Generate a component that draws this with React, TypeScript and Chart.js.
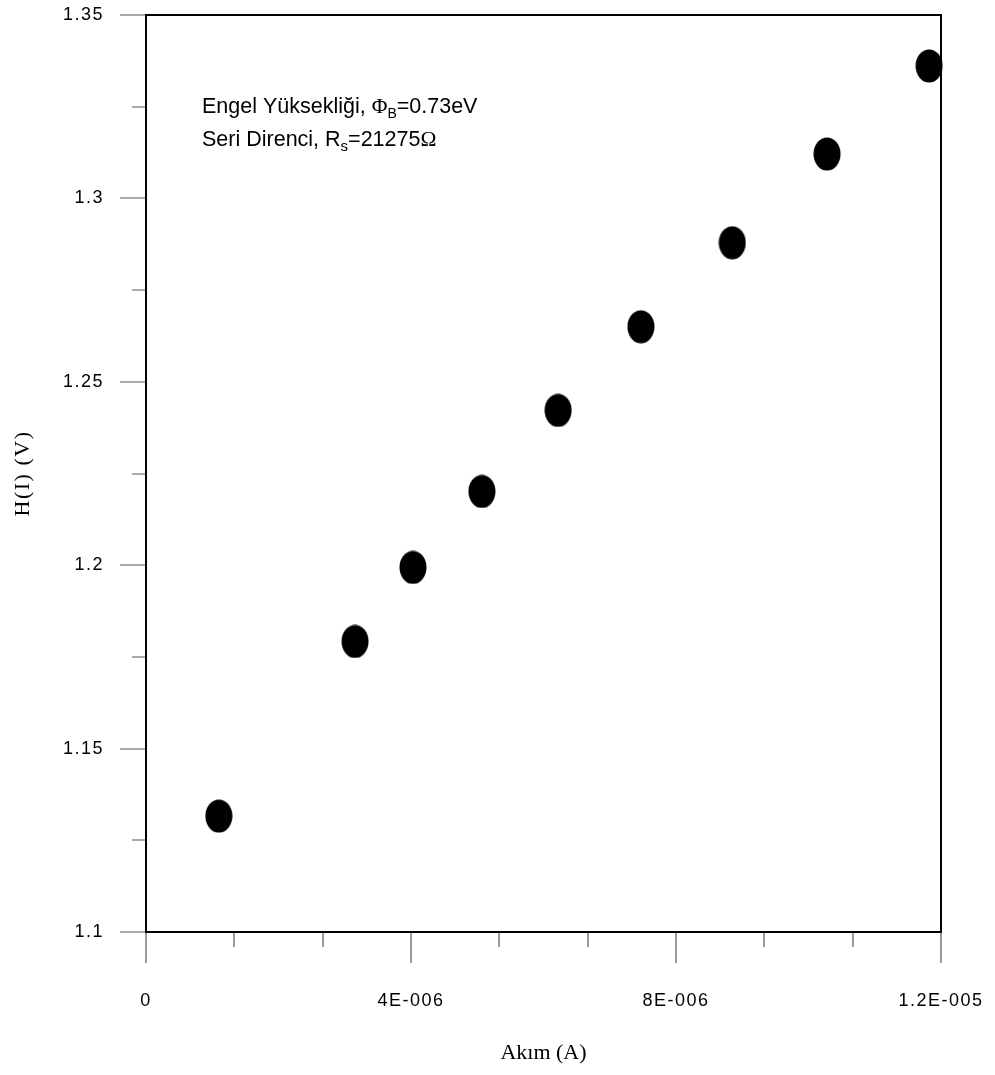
import React, { useEffect, useRef } from 'react';
import { Chart, registerables } from 'chart.js';

Chart.register(...registerables);

// ---- data ----
const currentA = [1.1e-6, 3.155e-6, 4.03e-6, 5.07e-6, 6.22e-6, 7.47e-6, 8.85e-6, 10.28e-6, 11.82e-6];
const heightV = [1.1316, 1.1792, 1.1994, 1.2201, 1.2422, 1.265, 1.2879, 1.3121, 1.3361];

const xMajorTicks = [0, 4e-6, 8e-6, 1.2e-5];
const xTickLabels = ['0', '4E-006', '8E-006', '1.2E-005'];
const xMinorTicks = [1.3333e-6, 2.6667e-6, 5.3333e-6, 6.6667e-6, 9.3333e-6, 1.06667e-5];

const yMajorTicks = [1.1, 1.15, 1.2, 1.25, 1.3, 1.35];
const yTickLabels = ['1.1', '1.15', '1.2', '1.25', '1.3', '1.35'];
const yMinorTicks = [1.125, 1.175, 1.225, 1.275, 1.325];

const xTitle = 'Akım (A)';
const yTitle = 'H(I) (V)';

const SANS = "'Liberation Sans', Arial, sans-serif";
const SERIF = "'Liberation Serif', 'Times New Roman', serif";

type Run = { text: string; font: string; dy?: number };
const noteLine1: Run[] = [
  { text: 'Engel Yüksekliği, ', font: `21.5px ${SANS}` },
  { text: 'Φ', font: `21.5px ${SERIF}` },
  { text: 'B', font: `14px ${SANS}`, dy: 5 },
  { text: '=0.73eV', font: `21.5px ${SANS}` },
];
const noteLine2: Run[] = [
  { text: 'Seri Direnci, R', font: `21.5px ${SANS}` },
  { text: 's', font: `15px ${SANS}`, dy: 5 },
  { text: '=21275', font: `21.5px ${SANS}` },
  { text: 'Ω', font: `21.5px ${SERIF}` },
];

function makeMarker(): HTMLCanvasElement {
  const c = document.createElement('canvas');
  c.width = 28;
  c.height = 34;
  const g = c.getContext('2d')!;
  g.fillStyle = '#000';
  g.beginPath();
  g.ellipse(14, 17, 13.5, 16.5, 0, 0, Math.PI * 2);
  g.fill();
  return c;
}

function drawRuns(ctx: CanvasRenderingContext2D, x: number, y: number, runs: Run[]) {
  let cx = x;
  ctx.textAlign = 'left';
  ctx.textBaseline = 'alphabetic';
  for (const r of runs) {
    ctx.font = r.font;
    ctx.fillText(r.text, cx, y + (r.dy || 0));
    cx += ctx.measureText(r.text).width;
  }
}

const zeroPad = (s: any) => {
  s.paddingLeft = 0;
  s.paddingRight = 0;
  s.paddingTop = 0;
  s.paddingBottom = 0;
};

const decorPlugin = {
  id: 'decor',
  beforeLayout(chart: any) {
    (chart.ctx as any).letterSpacing = '1.5px';
  },
  afterDraw(chart: any) {
    const ctx: CanvasRenderingContext2D = chart.ctx;
    const { left, right, top, bottom } = chart.chartArea;
    const xs = chart.scales.x;
    const ys = chart.scales.y;
    ctx.save();
    (ctx as any).letterSpacing = '0px';

    // ticks
    ctx.strokeStyle = '#555';
    ctx.lineWidth = 1.2;
    ctx.beginPath();
    for (const v of yMajorTicks) {
      const p = Math.round(ys.getPixelForValue(v));
      ctx.moveTo(left - 26, p);
      ctx.lineTo(left, p);
    }
    for (const v of yMinorTicks) {
      const p = Math.round(ys.getPixelForValue(v));
      ctx.moveTo(left - 14, p);
      ctx.lineTo(left, p);
    }
    for (const v of xMajorTicks) {
      const p = Math.round(xs.getPixelForValue(v));
      ctx.moveTo(p, bottom);
      ctx.lineTo(p, bottom + 31);
    }
    for (const v of xMinorTicks) {
      const p = Math.round(xs.getPixelForValue(v));
      ctx.moveTo(p, bottom);
      ctx.lineTo(p, bottom + 15);
    }
    ctx.stroke();

    // frame
    ctx.strokeStyle = '#000';
    ctx.lineWidth = 2;
    ctx.strokeRect(left, top, right - left, bottom - top);

    // annotation
    ctx.fillStyle = '#000';
    drawRuns(ctx, left + 56, top + 98, noteLine1);
    drawRuns(ctx, left + 56, top + 131, noteLine2);

    // axis titles
    ctx.font = `22px ${SERIF}`;
    ctx.textAlign = 'center';
    ctx.textBaseline = 'middle';
    ctx.fillText(xTitle, (left + right) / 2, 1053);
    ctx.save();
    (ctx as any).letterSpacing = '1.5px';
    ctx.translate(23, (top + bottom) / 2);
    ctx.rotate(-Math.PI / 2);
    ctx.fillText(yTitle, 0, 0);
    ctx.restore();

    ctx.restore();
  },
};

export default function App() {
  const ref = useRef<HTMLCanvasElement>(null);
  useEffect(() => {
    if (!ref.current) return;
    const marker = makeMarker();
    const chart = new Chart(ref.current, {
      type: 'scatter',
      data: {
        datasets: [
          {
            data: currentA.map((x, i) => ({ x, y: heightV[i] })),
            pointStyle: marker as any,
            pointRadius: 14,
            backgroundColor: '#000',
            borderColor: '#000',
            showLine: false,
            clip: false as any,
          },
        ],
      },
      options: {
        responsive: false,
        animation: false,
        devicePixelRatio: 1,
        events: [],
        layout: { padding: { top: 14, right: 54, left: 0, bottom: 0 } },
        plugins: { legend: { display: false }, tooltip: { enabled: false } },
        scales: {
          x: {
            type: 'linear',
            min: 0,
            max: 1.2e-5,
            grid: { display: false, drawTicks: false },
            border: { display: false },
            afterBuildTicks: (s: any) => {
              s.ticks = xMajorTicks.map((v) => ({ value: v }));
            },
            afterFit: (s: any) => {
              s.height = 143;
              zeroPad(s);
            },
            ticks: {
              callback: (_v: any, i: number) => xTickLabels[i],
              font: { family: SANS, size: 18 },
              color: '#000',
              padding: 58,
              maxRotation: 0,
              autoSkip: false,
            },
          },
          y: {
            type: 'linear',
            min: 1.1,
            max: 1.35,
            grid: { display: false, drawTicks: false },
            border: { display: false },
            afterBuildTicks: (s: any) => {
              s.ticks = yMajorTicks.map((v) => ({ value: v }));
            },
            afterFit: (s: any) => {
              s.width = 146;
              zeroPad(s);
            },
            ticks: {
              callback: (_v: any, i: number) => yTickLabels[i],
              font: { family: SANS, size: 18 },
              color: '#000',
              padding: 42,
              autoSkip: false,
            },
          },
        },
      },
      plugins: [decorPlugin],
    });
    return () => chart.destroy();
  }, []);
  return (
    <div style={{ position: 'absolute', left: 0, top: 0, width: 995, height: 1075, background: '#fff' }}>
      <canvas ref={ref} width={995} height={1075} style={{ display: 'block' }} />
    </div>
  );
}
